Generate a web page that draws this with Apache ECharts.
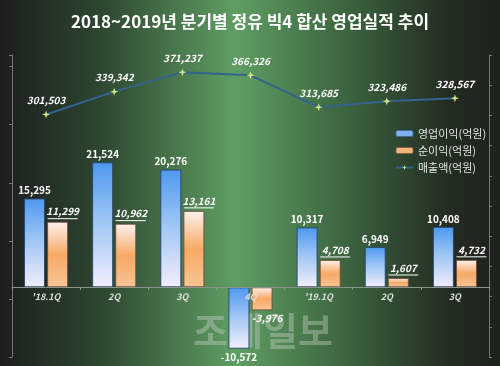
<!DOCTYPE html>
<html><head><meta charset="utf-8">
<script src="https://cdn.jsdelivr.net/npm/echarts@6/dist/echarts.min.js"></script>
<style>html,body{margin:0;padding:0;background:#1e1e1e}#c{width:500px;height:366px}</style>
</head><body><div id="c"></div>
<script>
const titleText = '2018~2019년 분기별 정유 빅4 합산 영업실적 추이';
const categories = ["'18.1Q", '2Q', '3Q', '4Q', "'19.1Q", '2Q', '3Q'];
const opProfit = [15295, 21524, 20276, -10572, 10317, 6949, 10408];
const netProfit = [11299, 10962, 13161, -3976, 4708, 1607, 4732];
const sales = [301503, 339342, 371237, 366326, 313685, 323486, 328567];
const seriesNames = ['영업이익(억원)', '순이익(억원)', '매출액(억원)'];

const FONT = '"Noto Sans CJK KR", "Noto Sans", sans-serif';
const fmt = v => v.toLocaleString('en-US');
const chart = echarts.init(document.getElementById('c'));
const grad = (stops) => new echarts.graphic.LinearGradient(0, 0, 0, 1, stops.map((c) => ({offset: c[0], color: c[1]})));
const blueGrad = grad([[0, '#4d98f0'], [0.45, '#9cc4f4'], [1, '#f3eefc']]);
const orangeGrad = grad([[0, '#fff2ee'], [0.5, '#f6a965'], [1, '#f8c595']]);

const leftMin = -12000, leftMax = 40000;
const gridTop = 55, gridBottom = 9, H = 366 - gridTop - gridBottom;
const zeroOffset = -Math.round(H * (0 - leftMin) / (leftMax - leftMin));

chart.setOption({
  backgroundColor: new echarts.graphic.LinearGradient(0, 0, 1, 0, [
    {offset: 0, color: '#1d1d1d'}, {offset: 0.2, color: '#2d4630'},
    {offset: 0.47, color: '#5f9e63'}, {offset: 0.7, color: '#3b623e'},
    {offset: 0.9, color: '#232b22'}, {offset: 1, color: '#1f211f'}]),
  textStyle: {fontFamily: FONT},
  title: {text: titleText, left: 'center', top: 8,
    textStyle: {color: '#ffffff', fontSize: 17, fontWeight: 'bold', fontFamily: FONT}},
  legend: {orient: 'vertical', left: 390, top: 123, itemGap: 6, itemWidth: 17, itemHeight: 6,
    textStyle: {color: '#e4e4e4', fontSize: 11, fontFamily: FONT},
    data: [
      {name: seriesNames[0], itemStyle: {color: '#7fb2ec', borderColor: '#3d6f9f', borderWidth: 1}},
      {name: seriesNames[1], itemStyle: {color: '#f6b57c', borderColor: '#8a6040', borderWidth: 1}},
      {name: seriesNames[2]}
    ]},
  grid: {left: 12, right: 11, top: gridTop, bottom: gridBottom},
  xAxis: {type: 'category', data: categories, offset: zeroOffset, z: 5,
    axisLine: {onZero: false, lineStyle: {color: '#8a958a', width: 1}},
    axisTick: {show: true, length: 3, lineStyle: {color: '#8a958a'}},
    axisLabel: {color: '#dddddd', fontSize: 9, fontStyle: 'italic', fontWeight: 'bold', margin: 5}},
  yAxis: [
    {type: 'value', min: leftMin, max: leftMax, interval: 10000, position: 'left',
      splitLine: {show: false}, axisLabel: {show: false},
      axisLine: {show: true, lineStyle: {color: '#777'}},
      axisTick: {show: true, length: 3, lineStyle: {color: '#777'}}},
    {type: 'value', min: -100000, max: 400000, interval: 50000, position: 'right',
      splitLine: {show: false}, axisLabel: {show: false},
      axisLine: {show: true, lineStyle: {color: '#777'}},
      axisTick: {show: true, length: 3, lineStyle: {color: '#777'}}}
  ],
  graphic: [{type: 'text', left: 193, top: 312, z: 0,
    style: {text: '조세일보', fill: 'rgba(200,210,200,0.4)', font: 'bold 38px ' + FONT}}],
  series: [
    {name: seriesNames[0], type: 'bar', data: opProfit, barWidth: 21, barGap: '10%', yAxisIndex: 0,
      itemStyle: {color: blueGrad, borderColor: 'rgba(40,70,110,0.9)', borderWidth: 1},
      label: {show: true, position: 'outside', distance: 3, color: '#ffffff', fontSize: 10,
        fontWeight: 'bold', fontFamily: FONT, formatter: p => fmt(p.value)}},
    {name: seriesNames[1], type: 'bar', data: netProfit, barWidth: 21, yAxisIndex: 0,
      itemStyle: {color: orangeGrad, borderColor: 'rgba(110,80,60,0.9)', borderWidth: 1},
      label: {show: true, position: 'outside', distance: 2, offset: [5, 0],
        formatter: p => p.value >= 0 ? '{a|' + fmt(p.value) + '}\n{u|}' : '{a|' + fmt(p.value) + '}',
        rich: {a: {color: '#ffffff', fontSize: 10, fontWeight: 'bold', fontStyle: 'italic', fontFamily: FONT, lineHeight: 12},
               u: {height: 1, width: 30, backgroundColor: '#ffffff', lineHeight: 2}}}},
    {name: seriesNames[2], type: 'line', data: sales, yAxisIndex: 1,
      lineStyle: {color: '#33638f', width: 2},
      symbol: 'path://M0,-10 L2.5,-2.5 L10,0 L2.5,2.5 L0,10 L-2.5,2.5 L-10,0 L-2.5,-2.5 Z',
      symbolSize: 8, itemStyle: {color: '#d2e67a'},
      label: {show: true, position: 'top', distance: 5, color: '#ffffff', fontSize: 10,
        fontWeight: 'bold', fontStyle: 'italic', fontFamily: FONT, formatter: p => fmt(p.value)}}
  ]
});
</script></body></html>
